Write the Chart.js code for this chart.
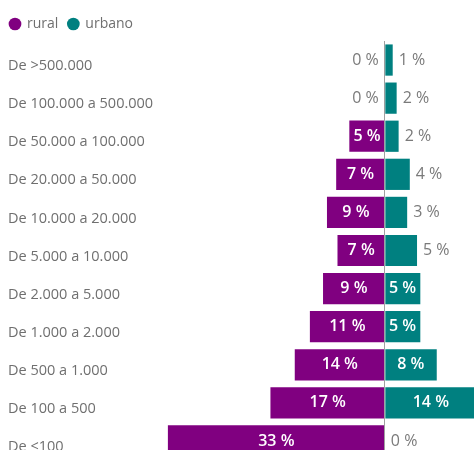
<!DOCTYPE html>
<html>
<head>
<meta charset="utf-8">
<script src="https://cdn.jsdelivr.net/npm/chart.js@4"></script>
<style>
  html, body { margin: 0; padding: 0; overflow: hidden; background: #fff; }
  canvas { display: block; }
</style>
</head>
<body>
<canvas id="myChart" width="490" height="460"></canvas>
<script>
// categories (municipality size) and shares per series, in %
let categories = ["De >500.000", "De 100.000 a 500.000", "De 50.000 a 100.000", "De 20.000 a 50.000",
  "De 10.000 a 20.000", "De 5.000 a 10.000", "De 2.000 a 5.000", "De 1.000 a 2.000",
  "De 500 a 1.000", "De 100 a 500", "De <100"];
let rural = [0, 0, 5.4, 7.4, 8.8, 7.2, 9.4, 11.4, 13.7, 17.4, 33];
let urbano = [1.2, 1.8, 2.1, 3.8, 3.4, 4.9, 5.4, 5.4, 7.9, 14, 0];
let seriesNames = ["rural", "urbano"];
let seriesColors = ["#800080", "#008080"];

const FONT = "'Open Sans', 'Noto Sans', sans-serif";

// value labels: inside the bar when it fits, otherwise just outside
const barLabels = {
  id: "barLabels",
  afterDatasetsDraw(chart) {
    const ctx = chart.ctx;
    const xs = chart.scales.x;
    const zero = xs.getPixelForValue(0);
    ctx.save();
    ctx.textBaseline = "middle";
    chart.data.datasets.forEach((ds, di) => {
      const meta = chart.getDatasetMeta(di);
      meta.data.forEach((bar, i) => {
        const v = ds.data[i];
        const end = xs.getPixelForValue(v);
        const txt = Math.round(Math.abs(v)) + " %";
        const w = Math.abs(end - zero);
        ctx.font = "600 16px " + FONT;
        const tw = ctx.measureText(txt).width;
        if (w >= tw + 6) {
          ctx.fillStyle = "#ffffff";
          ctx.textAlign = "center";
          ctx.fillText(txt, (end + zero) / 2, bar.y);
        } else {
          ctx.font = "16px " + FONT;
          ctx.fillStyle = "#7a7a7a";
          if (di === 0) {
            ctx.textAlign = "right";
            ctx.fillText(txt, end - 6, bar.y);
          } else {
            ctx.textAlign = "left";
            ctx.fillText(txt, end + 6, bar.y);
          }
        }
      });
    });
    ctx.restore();
  }
};

// category labels start a bit in from the left edge
const shiftAxis = {
  id: "shiftAxis",
  afterLayout(chart) {
    chart.scales.y.left = 8;
  }
};

new Chart("myChart", {
  type: "bar",
  data: {
    labels: categories,
    datasets: [{
      label: seriesNames[0],
      data: rural.map(v => -v),
      backgroundColor: seriesColors[0],
      barPercentage: 0.82,
      categoryPercentage: 1
    }, {
      label: seriesNames[1],
      data: urbano,
      backgroundColor: seriesColors[1],
      barPercentage: 0.82,
      categoryPercentage: 1
    }]
  },
  options: {
    indexAxis: "y",
    responsive: false,
    animation: false,
    layout: { padding: { top: 7, left: 0, right: 0, bottom: 0 } },
    plugins: {
      tooltip: { enabled: false },
      legend: {
        position: "top",
        align: "start",
        labels: {
          usePointStyle: true,
          pointStyle: "circle",
          boxWidth: 10,
          boxHeight: 9,
          padding: 10,
          color: "#6f6f6f",
          font: { family: FONT, size: 14 }
        }
      }
    },
    scales: {
      x: {
        stacked: false,
        min: -34.2,
        max: 16,
        afterFit: s => { s.height = 0; },
        ticks: { display: false, stepSize: 10 },
        border: { display: false },
        grid: {
          drawTicks: false,
          z: 1,
          color: c => (c.tick && c.tick.value === 0) ? "#a0a0a0" : "transparent"
        }
      },
      y: {
        stacked: true,
        afterFit: s => { s.width = 160; s.paddingTop = 0; s.paddingBottom = 0; },
        grid: { display: false },
        border: { display: false },
        ticks: {
          crossAlign: "far",
          labelOffset: 6,
          color: "#6f6f6f",
          font: { family: FONT, size: 14.5 }
        }
      }
    }
  },
  plugins: [barLabels, shiftAxis]
});
</script>
</body>
</html>
